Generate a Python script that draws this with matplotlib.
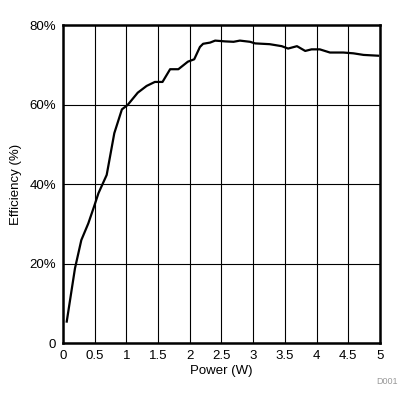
import matplotlib.pyplot as plt
import numpy as np

plt.rcParams['font.family'] = ['Liberation Sans', 'DejaVu Sans']

# efficiency curve
power = [0.06, 0.19, 0.29, 0.40, 0.49, 0.56, 0.69, 0.81, 0.93, 1.02, 1.18, 1.32, 1.45,
         1.57, 1.69, 1.82, 1.97, 2.07, 2.16, 2.21, 2.32, 2.40, 2.56, 2.69, 2.79, 2.95,
         3.03, 3.26, 3.45, 3.55, 3.69, 3.82, 3.92, 4.05, 4.21, 4.42, 4.58, 4.74, 4.97]
efficiency = [5.4, 18.8, 25.9, 30.1, 34.3, 37.7, 42.3, 52.8, 58.8, 59.9, 63.0, 64.7, 65.7,
              65.7, 68.9, 68.9, 70.8, 71.4, 74.5, 75.3, 75.6, 76.1, 75.9, 75.8, 76.1, 75.8,
              75.4, 75.2, 74.7, 74.1, 74.7, 73.5, 73.9, 73.9, 73.1, 73.1, 72.9, 72.5, 72.3]

xticks = [0, 0.5, 1, 1.5, 2, 2.5, 3, 3.5, 4, 4.5, 5]
xlabels = ['0', '0.5', '1', '1.5', '2', '2.5', '3', '3.5', '4', '4.5', '5']
yticks = [0, 20, 40, 60, 80]
ylabels = ['0', '20%', '40%', '60%', '80%']

fig = plt.figure(figsize=(4.14, 4.05), dpi=100)
ax = fig.add_axes([0.152, 0.153, 0.766, 0.785])
ax.plot(power, efficiency, color='black', linewidth=1.6)
ax.set_xlim(0, 5)
ax.set_ylim(0, 80)
ax.set_xticks(xticks)
ax.set_xticklabels(xlabels)
ax.set_yticks(yticks)
ax.set_yticklabels(ylabels)
ax.tick_params(length=0, labelsize=9.5, pad=5)
ax.grid(True, color='black', linewidth=0.8)
for s in ax.spines.values():
    s.set_linewidth(1.8)
ax.set_xlabel('Power (W)', fontsize=9.5, labelpad=2)
ax.set_ylabel('Efficiency (%)', fontsize=9.5, labelpad=5)
fig.text(0.96, 0.052, 'D001', fontsize=6.5, color='#999999', ha='right')

plt.savefig('out.png', dpi=100)
